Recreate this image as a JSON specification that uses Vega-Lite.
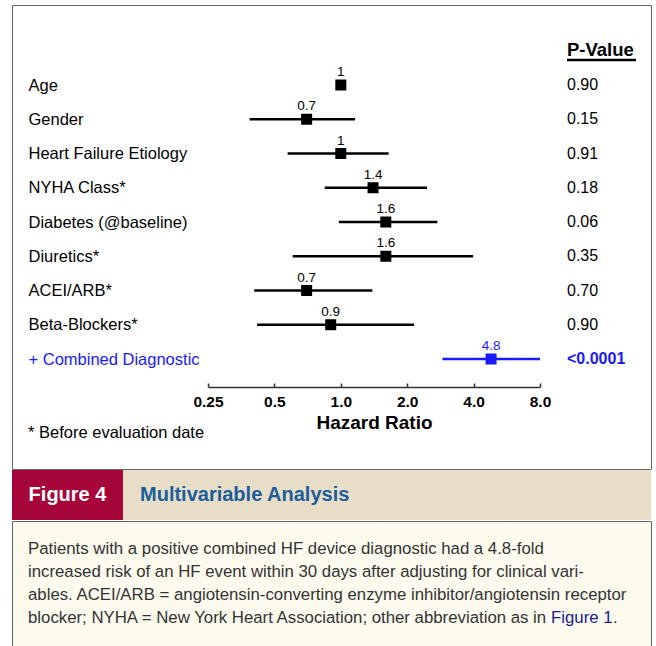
{
  "$schema": "https://vega.github.io/schema/vega-lite/v6.json",
  "padding": {"left": 11, "top": 4, "right": 5, "bottom": 0},
  "background": "white",
  "spacing": 0,
  "vconcat": [
    {
      "width": 639,
      "height": 464,
      "view": {"stroke": "#666", "strokeWidth": 1, "fill": "white"},
      "data": {
        "values": [
          {"factor": "Age", "hr": 1, "lo": 0.985, "hi": 1.015, "p": "0.90", "grp": "base"},
          {"factor": "Gender", "hr": 0.7, "lo": 0.386, "hi": 1.16, "p": "0.15", "grp": "base"},
          {"factor": "Heart Failure Etiology", "hr": 1, "lo": 0.574, "hi": 1.647, "p": "0.91", "grp": "base"},
          {"factor": "NYHA Class*", "hr": 1.4, "lo": 0.845, "hi": 2.46, "p": "0.18", "grp": "base"},
          {"factor": "Diabetes (@baseline)", "hr": 1.6, "lo": 0.98, "hi": 2.74, "p": "0.06", "grp": "base"},
          {"factor": "Diuretics*", "hr": 1.6, "lo": 0.605, "hi": 3.98, "p": "0.35", "grp": "base"},
          {"factor": "ACEI/ARB*", "hr": 0.7, "lo": 0.405, "hi": 1.39, "p": "0.70", "grp": "base"},
          {"factor": "Beta-Blockers*", "hr": 0.9, "lo": 0.417, "hi": 2.15, "p": "0.90", "grp": "base"},
          {"factor": "+ Combined Diagnostic", "hr": 4.8, "lo": 2.89, "hi": 8.0, "p": "<0.0001", "grp": "combined"}
        ]
      },
      "encoding": {
        "y": {
          "field": "factor",
          "type": "nominal",
          "sort": null,
          "scale": {"type": "point", "range": [80, 354], "padding": 0},
          "axis": {
            "title": null,
            "orient": "left",
            "domain": false,
            "ticks": false,
            "grid": false,
            "labelAlign": "left",
            "labelBaseline": "middle",
            "labelPadding": -16,
            "labelFontSize": 16.5,
            "labelLimit": 400,
            "labelOverlap": false,
            "labelColor": {"condition": {"test": "datum.value === '+ Combined Diagnostic'", "value": "#1a1aff"}, "value": "black"}
          }
        }
      },
      "layer": [
        {
          "mark": {"type": "rule", "strokeWidth": 2.5},
          "encoding": {
            "x": {
              "field": "lo",
              "type": "quantitative",
              "title": "Hazard Ratio",
              "scale": {"type": "log", "domain": [0.25, 8], "range": [196, 528], "nice": false},
              "axis": {
                "orient": "bottom",
                "offset": -82,
                "values": [0.25, 0.5, 1, 2, 4, 8],
                "labelExpr": "datum.value == 0.25 ? '0.25' : datum.value == 0.5 ? '0.5' : format(datum.value, '.1f')",
                "grid": false,
                "tickSize": -4,
                "tickWidth": 1.5,
                "tickColor": "#333",
                "domainColor": "#333",
                "domainWidth": 1.5,
                "labelFontSize": 15.5,
                "labelFontWeight": "bold",
                "labelColor": "black",
                "labelPadding": 11,
                "labelFlush": false,
                "labelOverlap": false,
                "titleFontSize": 19,
                "titleFontWeight": "bold",
                "titleColor": "black",
                "titlePadding": 4
              }
            },
            "x2": {"field": "hi"},
            "color": {"field": "grp", "type": "nominal", "scale": {"domain": ["base", "combined"], "range": ["black", "#1a1aff"]}, "legend": null}
          }
        },
        {
          "mark": {"type": "point", "shape": "square", "size": 121, "filled": true, "opacity": 1},
          "encoding": {
            "x": {"field": "hr", "type": "quantitative", "title": "Hazard Ratio"},
            "color": {"field": "grp", "type": "nominal", "scale": {"domain": ["base", "combined"], "range": ["black", "#1a1aff"]}, "legend": null}
          }
        },
        {
          "mark": {"type": "text", "fontSize": 13.5, "dy": -9, "baseline": "alphabetic"},
          "encoding": {
            "x": {"field": "hr", "type": "quantitative", "title": "Hazard Ratio"},
            "text": {"field": "hr", "type": "quantitative"},
            "color": {"field": "grp", "type": "nominal", "scale": {"domain": ["base", "combined"], "range": ["black", "#1a1aff"]}, "legend": null}
          }
        },
        {
          "transform": [{"filter": "datum.grp === 'base'"}],
          "mark": {"type": "text", "fontSize": 16, "align": "left", "baseline": "middle", "dx": 27, "color": "black"},
          "encoding": {
            "x": {"datum": 8, "type": "quantitative"},
            "text": {"field": "p"}
          }
        },
        {
          "transform": [{"filter": "datum.grp === 'combined'"}],
          "mark": {"type": "text", "fontSize": 16, "fontWeight": "bold", "align": "left", "baseline": "middle", "dx": 27, "color": "#1a1aff"},
          "encoding": {
            "x": {"datum": 8, "type": "quantitative"},
            "text": {"field": "p"}
          }
        },
        {
          "data": {"values": [{"head": "P-Value"}]},
          "mark": {"type": "text", "fontSize": 18.5, "fontWeight": "bold", "align": "left", "baseline": "alphabetic", "dx": 27, "dy": -29, "color": "black"},
          "encoding": {
            "x": {"datum": 8, "type": "quantitative"},
            "y": {"datum": "Age"},
            "text": {"field": "head"}
          }
        },
        {
          "data": {"values": [{"head": "P-Value"}]},
          "mark": {"type": "rule", "strokeWidth": 2.5, "color": "black", "xOffset": 27, "x2Offset": 96, "yOffset": -25},
          "encoding": {
            "x": {"datum": 8, "type": "quantitative"},
            "x2": {"datum": 8},
            "y": {"datum": "Age"}
          }
        },
        {
          "data": {"values": [{"note": "* Before evaluation date"}]},
          "mark": {"type": "text", "fontSize": 16.5, "align": "left", "baseline": "middle", "dx": -180, "dy": 74, "color": "black"},
          "encoding": {
            "x": {"datum": 0.25, "type": "quantitative"},
            "y": {"datum": "+ Combined Diagnostic"},
            "text": {"field": "note"}
          }
        }
      ]
    },
    {
      "spacing": 0,
      "hconcat": [
        {
          "width": 111,
          "height": 50,
          "view": {"fill": "#a6053a", "stroke": null},
          "data": {"values": [{"t": "Figure 4"}]},
          "mark": {"type": "text", "color": "white", "fontWeight": "bold", "fontSize": 20, "baseline": "middle"},
          "encoding": {"text": {"field": "t"}}
        },
        {
          "width": 528,
          "height": 50,
          "view": {"fill": "#e8dec7", "stroke": null},
          "data": {"values": [{"t": "Multivariable Analysis"}]},
          "mark": {"type": "text", "color": "#1b5c9c", "fontWeight": "bold", "fontSize": 20, "align": "left", "baseline": "middle", "dx": 17},
          "encoding": {
            "x": {"datum": 0, "type": "quantitative", "scale": {"domain": [0, 1]}, "axis": null},
            "text": {"field": "t"}
          }
        }
      ]
    },
    {
      "width": 639,
      "height": 127,
      "view": {"fill": "#fdfbee", "stroke": "#666", "strokeWidth": 1},
      "data": {
        "values": [
          {"line": 1, "part": "main", "text": "Patients with a positive combined HF device diagnostic had a 4.8-fold"},
          {"line": 2, "part": "main", "text": "increased risk of an HF event within 30 days after adjusting for clinical vari-"},
          {"line": 3, "part": "main", "text": "ables. ACEI/ARB = angiotensin-converting enzyme inhibitor/angiotensin receptor"},
          {"line": 4, "part": "main", "text": "blocker; NYHA = New York Heart Association; other abbreviation as in"},
          {"line": 4, "part": "ref", "text": "Figure 1"},
          {"line": 4, "part": "end", "text": "."}
        ]
      },
      "encoding": {
        "x": {"datum": 0, "type": "quantitative", "scale": {"domain": [0, 1]}, "axis": null},
        "y": {"field": "line", "type": "quantitative", "scale": {"domain": [-0.217, 5.305], "reverse": true, "nice": false, "zero": false}, "axis": null},
        "text": {"field": "text"}
      },
      "layer": [
        {
          "transform": [{"filter": "datum.part === 'main'"}],
          "mark": {"type": "text", "fontSize": 16.8, "align": "left", "baseline": "middle", "dx": 16, "color": "#333"}
        },
        {
          "transform": [{"filter": "datum.part === 'ref'"}],
          "mark": {"type": "text", "fontSize": 16.8, "align": "left", "baseline": "middle", "dx": 539, "color": "#1a1a8c"}
        },
        {
          "transform": [{"filter": "datum.part === 'end'"}],
          "mark": {"type": "text", "fontSize": 16.8, "align": "left", "baseline": "middle", "dx": 601, "color": "#333"}
        }
      ]
    }
  ],
  "config": {
    "font": "Liberation Sans",
    "view": {"stroke": null}
  }
}
